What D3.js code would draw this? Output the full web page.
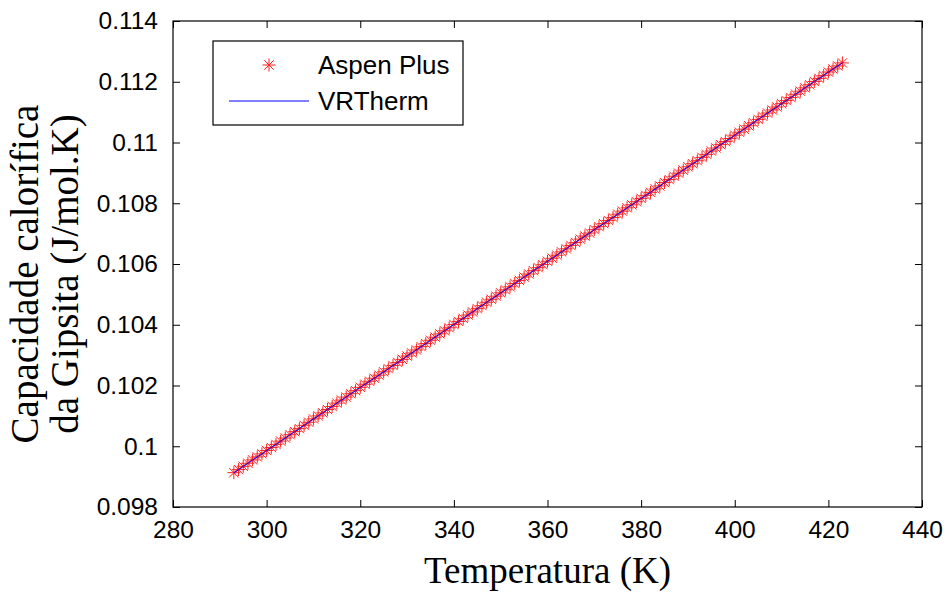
<!DOCTYPE html>
<html>
<head>
<meta charset="utf-8">
<script src="https://cdn.jsdelivr.net/npm/d3@7"></script>
<style>
  body { margin: 0; background: #fff; }
</style>
</head>
<body>
<div id="container"></div>
<script>
// temperatures (K)
const temps = [
  293, 294, 295, 296, 297, 298, 299, 300, 301, 302,
  303, 304, 305, 306, 307, 308, 309, 310, 311, 312,
  313, 314, 315, 316, 317, 318, 319, 320, 321, 322,
  323, 324, 325, 326, 327, 328, 329, 330, 331, 332,
  333, 334, 335, 336, 337, 338, 339, 340, 341, 342,
  343, 344, 345, 346, 347, 348, 349, 350, 351, 352,
  353, 354, 355, 356, 357, 358, 359, 360, 361, 362,
  363, 364, 365, 366, 367, 368, 369, 370, 371, 372,
  373, 374, 375, 376, 377, 378, 379, 380, 381, 382,
  383, 384, 385, 386, 387, 388, 389, 390, 391, 392,
  393, 394, 395, 396, 397, 398, 399, 400, 401, 402,
  403, 404, 405, 406, 407, 408, 409, 410, 411, 412,
  413, 414, 415, 416, 417, 418, 419, 420, 421, 422,
  423
];
// Aspen Plus heat capacity (J/mol.K)
const aspenCp = [
  0.09913, 0.09923, 0.09934, 0.09944, 0.09955, 0.09965, 0.09975, 0.09986, 0.09996, 0.10006,
  0.10017, 0.10027, 0.10038, 0.10048, 0.10058, 0.10069, 0.10079, 0.10090, 0.10100, 0.10110,
  0.10121, 0.10131, 0.10142, 0.10152, 0.10162, 0.10173, 0.10183, 0.10194, 0.10204, 0.10214,
  0.10224, 0.10234, 0.10245, 0.10255, 0.10266, 0.10276, 0.10286, 0.10297, 0.10307, 0.10317,
  0.10328, 0.10338, 0.10349, 0.10359, 0.10370, 0.10380, 0.10390, 0.10401, 0.10411, 0.10421,
  0.10432, 0.10442, 0.10453, 0.10463, 0.10474, 0.10484, 0.10494, 0.10505, 0.10515, 0.10525,
  0.10536, 0.10546, 0.10557, 0.10567, 0.10578, 0.10588, 0.10598, 0.10609, 0.10619, 0.10629,
  0.10640, 0.10650, 0.10661, 0.10671, 0.10682, 0.10692, 0.10702, 0.10713, 0.10723, 0.10733,
  0.10743, 0.10753, 0.10764, 0.10774, 0.10785, 0.10795, 0.10805, 0.10816, 0.10826, 0.10836,
  0.10847, 0.10857, 0.10868, 0.10878, 0.10889, 0.10899, 0.10909, 0.10920, 0.10930, 0.10940,
  0.10951, 0.10961, 0.10972, 0.10982, 0.10993, 0.11003, 0.11013, 0.11024, 0.11034, 0.11044,
  0.11055, 0.11065, 0.11076, 0.11086, 0.11097, 0.11107, 0.11117, 0.11128, 0.11138, 0.11148,
  0.11159, 0.11169, 0.11180, 0.11190, 0.11201, 0.11211, 0.11221, 0.11232, 0.11242, 0.11252,
  0.11262
];
// VRTherm curve (same points as the simulator)
const vrthermCp = aspenCp.slice();

const xTicks = [280, 300, 320, 340, 360, 380, 400, 420, 440];
const yTicks = [0.098, 0.1, 0.102, 0.104, 0.106, 0.108, 0.11, 0.112, 0.114];
const seriesNames = ['Aspen Plus', 'VRTherm'];

const width = 949;
const height = 594;
const margins = { top: 21, bottom: 87, left: 173, right: 27 };

const svg = d3.select('#container').append('svg')
    .attr('width', width)
    .attr('height', height)
    .attr('viewBox', `0 0 ${width} ${height}`);

const xScale = d3.scaleLinear()
    .domain([280, 440])
    .range([margins.left, width - margins.right]);

const yScale = d3.scaleLinear()
    .domain([0.098, 0.114])
    .range([height - margins.bottom, margins.top]);

const tickFont = "'Liberation Sans', Arial, Helvetica, sans-serif";
const labelFont = "'Liberation Serif', 'Times New Roman', serif";

// axes (matlab style: ticks inside, on every side)
const xAxis = d3.axisBottom(xScale).tickValues(xTicks).tickSize(-7).tickPadding(14).tickFormat(d3.format('d'));
const yAxis = d3.axisLeft(yScale).tickValues(yTicks).tickSize(-7).tickPadding(15).tickFormat(d => String(+d.toFixed(3)));
const xAxisTop = d3.axisTop(xScale).tickValues(xTicks).tickSize(-7).tickFormat('');
const yAxisRight = d3.axisRight(yScale).tickValues(yTicks).tickSize(-7).tickFormat('');

svg.append('g').attr('class', 'axis')
    .attr('transform', `translate(0, ${height - margins.bottom})`)
    .call(xAxis)
    .style('font-family', tickFont)
    .style('font-size', '24.5px');
svg.append('g').attr('class', 'axis')
    .attr('transform', `translate(${margins.left}, 0)`)
    .call(yAxis)
    .style('font-family', tickFont)
    .style('font-size', '24.5px');
svg.append('g').attr('class', 'axis')
    .attr('transform', `translate(0, ${margins.top})`)
    .call(xAxisTop);
svg.append('g').attr('class', 'axis')
    .attr('transform', `translate(${width - margins.right}, 0)`)
    .call(yAxisRight);

svg.selectAll('.axis .domain').remove();
svg.selectAll('.axis text').attr('fill', '#000');
svg.selectAll('.axis line').attr('stroke', '#000');

svg.append('rect')
    .attr('x', margins.left)
    .attr('y', margins.top)
    .attr('width', width - margins.left - margins.right)
    .attr('height', height - margins.top - margins.bottom)
    .attr('fill', 'none')
    .attr('stroke', '#000')
    .attr('stroke-width', 1.2);

const points = temps.map((t, i) => ({ t: t, aspen: aspenCp[i], vr: vrthermCp[i] }));

// asterisk marker
function star(r) {
    const d = r * 0.72;
    return `M${-r},0H${r}M0,${-r}V${r}M${-d},${-d}L${d},${d}M${-d},${d}L${d},${-d}`;
}

svg.append('g')
    .selectAll('path')
    .data(points)
    .enter()
    .append('path')
    .attr('transform', d => `translate(${xScale(d.t)},${yScale(d.aspen)})`)
    .attr('d', star(6.5))
    .attr('fill', 'none')
    .attr('stroke', '#ff2020')
    .attr('stroke-width', 1);

const valueline = d3.line()
    .x(d => xScale(d.t))
    .y(d => yScale(d.vr));

svg.append('path')
    .datum(points)
    .attr('d', valueline)
    .attr('fill', 'none')
    .attr('stroke', '#0000ff')
    .attr('stroke-width', 1);

// legend
const legend = svg.append('g');
legend.append('rect')
    .attr('x', 213).attr('y', 41)
    .attr('width', 250).attr('height', 84)
    .attr('fill', '#fff')
    .attr('stroke', '#000')
    .attr('stroke-width', 1.2);
legend.append('path')
    .attr('transform', 'translate(269,65)')
    .attr('d', star(6.5))
    .attr('fill', 'none')
    .attr('stroke', '#ff2020')
    .attr('stroke-width', 1);
legend.append('line')
    .attr('x1', 229).attr('x2', 309)
    .attr('y1', 101).attr('y2', 101)
    .attr('stroke', '#0000ff')
    .attr('stroke-width', 1);
legend.selectAll('text')
    .data(seriesNames)
    .enter()
    .append('text')
    .attr('x', 318)
    .attr('y', (d, i) => 74 + i * 36)
    .style('font-family', tickFont)
    .style('font-size', '26px')
    .text(d => d);

// axis titles
svg.append('text')
    .attr('x', (margins.left + width - margins.right) / 2)
    .attr('y', 583)
    .attr('text-anchor', 'middle')
    .style('font-family', labelFont)
    .style('font-size', '37px')
    .text('Temperatura (K)');

const ylab = svg.append('text')
    .attr('transform', 'translate(0,' + 274 + ')rotate(-90)')
    .attr('text-anchor', 'middle')
    .style('font-family', labelFont)
    .style('font-size', '39px');
ylab.append('tspan').attr('x', 0).attr('y', 38).text('Capacidade calorífica');
ylab.append('tspan').attr('x', 0).attr('y', 78).text('da Gipsita (J/mol.K)');
</script>
</body>
</html>
